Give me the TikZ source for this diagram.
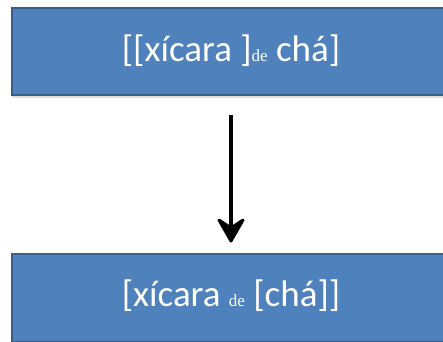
\documentclass[tikz,border=0pt]{standalone}
\usepackage{fontspec}
\setmainfont{Carlito}
\newfontfamily\deserif{Liberation Serif}
\usetikzlibrary{arrows.meta}
\definecolor{boxfill}{HTML}{4F81BD}
\definecolor{boxline}{HTML}{385D8A}
\tikzset{
  bluebox/.style={draw=boxline, line width=2pt, fill=boxfill},
  boxtext/.style={text=white, font=\fontsize{37}{40}\selectfont, inner sep=0pt},
  headstyle/.style={fill=black, draw=black, line width=3pt, line join=round},
}
\newcommand{\smde}{{\deserif\fontsize{17}{20}\selectfont de}}
\begin{document}
\begin{tikzpicture}[x=1pt,y=-1pt]
\useasboundingbox (0,0) rectangle (443,341);
\fill[gray!25] (12,96) rectangle (452,98);
\draw[bluebox] (12,8) rectangle (452,95);
\draw[bluebox] (12,254) rectangle (452,342);
\node[boxtext] (top) at (231,51) {[[xícara ]\smde{} chá]};
\node[boxtext] (bot) at (231,296) {[xícara \smde{} [chá]]};
\coordinate (a) at (231,115);
\coordinate (n) at (231,228);
\coordinate (tip) at (231,241);
\draw[line width=4pt] (a) -- (n);
\draw[headstyle] (tip) -- (219,220) -- (n) -- (243,220) -- cycle;
\end{tikzpicture}
\end{document}
